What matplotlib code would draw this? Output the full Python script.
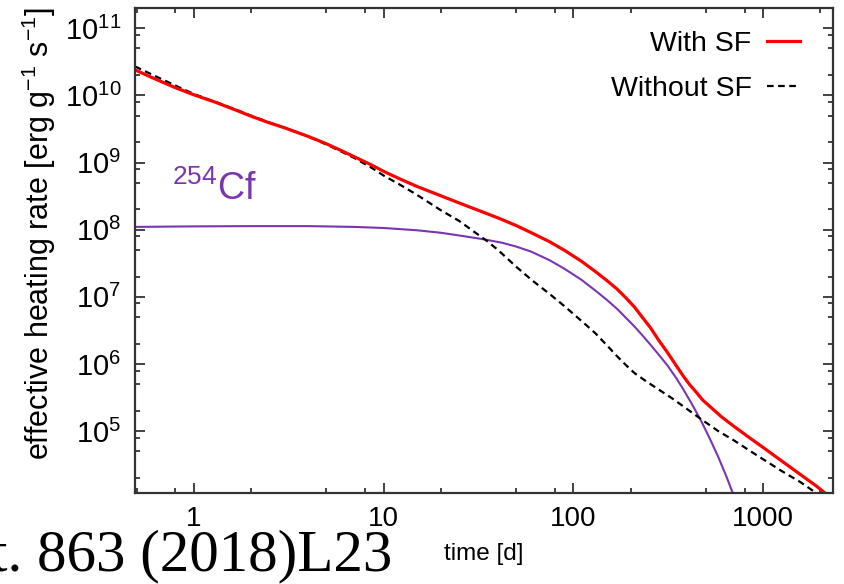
import numpy as np
import matplotlib
matplotlib.use("Agg")
import matplotlib.pyplot as plt
from matplotlib import ticker

# values (time in days, rate in erg/g/s)
t_sf = [0.49, 0.6, 0.8, 1, 1.3, 1.7, 2, 2.5, 3, 4, 5, 6, 7, 8.5, 10, 12, 15,
        20, 25, 30, 40, 50, 60, 75, 90, 110, 130, 150, 170, 190, 210, 230,
        254, 280, 312, 345, 379, 410, 440, 480, 526, 600, 695, 850, 1000,
        1250, 1566, 1900, 2100, 2250]
q_sf = [2.4e10, 1.85e10, 1.3e10, 1.02e10, 7.9e9, 5.9e9, 4.9e9, 3.9e9, 3.3e9,
        2.45e9, 1.9e9, 1.5e9, 1.22e9, 9.4e8, 7.4e8, 5.8e8, 4.4e8,
        3.2e8, 2.5e8, 2.05e8, 1.5e8, 1.15e8, 9.0e7, 6.6e7, 4.9e7, 3.4e7,
        2.4e7, 1.75e7, 1.3e7, 9.5e6, 7.0e6, 5.0e6,
        3.5e6, 2.3e6, 1.5e6, 9.8e5, 6.6e5, 4.9e5, 3.9e5, 2.9e5, 2.3e5,
        1.65e5, 1.2e5, 7.9e4, 5.7e4, 3.6e4, 2.27e4, 1.53e4, 1.22e4, 1.05e4]

t_nosf = [0.49, 0.6, 0.8, 1, 1.3, 1.7, 2, 2.5, 3, 4, 5, 6, 7, 8.5, 10, 12,
          15, 20, 25, 30, 35, 40, 50, 60, 75, 90, 110, 130, 150, 170, 190,
          210, 240, 280, 330, 400, 480, 580, 700, 850, 1000, 1250, 1566,
          1900, 2000]
q_nosf = [2.7e10, 2.05e10, 1.4e10, 1.05e10, 8.0e9, 6.0e9, 5.0e9, 3.95e9,
          3.3e9, 2.45e9, 1.85e9, 1.45e9, 1.17e9, 8.6e8, 6.4e8, 4.8e8,
          3.3e8, 1.95e8, 1.35e8, 9.3e7, 6.8e7, 5.0e7, 2.8e7, 1.8e7, 1.1e7,
          7.2e6, 4.4e6, 2.9e6, 1.9e6, 1.3e6, 9.5e5,
          7.3e5, 5.6e5, 4.2e5, 3.1e5, 2.1e5, 1.45e5, 1.0e5, 7.3e4, 5.1e4,
          3.8e4, 2.55e4, 1.75e4, 1.2e4, 1.08e4]

t_cf = [0.49, 1, 2, 4, 7, 10, 15, 20, 25, 33.6, 42, 50, 60, 75, 90, 110,
        130, 150, 170, 190, 210, 230, 254, 280, 312, 345, 379, 420, 466,
        520, 580, 640, 695, 720]
q_cf = [1.10e8, 1.12e8, 1.13e8, 1.13e8, 1.10e8, 1.06e8, 9.8e7, 9.0e7,
        8.2e7, 7.2e7, 6.4e7, 5.6e7, 4.7e7, 3.5e7, 2.6e7, 1.8e7,
        1.25e7, 9.0e6, 6.6e6, 4.8e6, 3.6e6, 2.7e6, 1.95e6, 1.4e6, 9.6e5,
        6.4e5, 4.2e5, 2.55e5, 1.5e5, 8.0e4, 4.1e4, 2.1e4, 1.15e4, 8.5e3]

xticks = [1, 10, 100, 1000]
xticklabels = ["1", "10", "100", "1000"]
yexps = [5, 6, 7, 8, 9, 10, 11]

RED = "#ff0000"
PURPLE = "#7a35b0"


def main():
    plt.rcParams["font.family"] = ["Liberation Sans", "DejaVu Sans"]
    plt.rcParams["mathtext.fontset"] = "custom"
    plt.rcParams["mathtext.rm"] = "Liberation Sans"
    plt.rcParams["mathtext.it"] = "Liberation Sans:italic"
    plt.rcParams["mathtext.bf"] = "Liberation Sans:bold"

    fig = plt.figure(figsize=(8.44, 5.84), dpi=100)
    ax = fig.add_axes([135 / 844, 1 - 493 / 584, 698 / 844, 485 / 584])

    ax.plot(t_cf, q_cf, color=PURPLE, lw=1.5)
    ax.plot(t_nosf, q_nosf, color="black", lw=1.6, dashes=(3, 2),
            label="Without SF")
    ax.plot(t_sf, q_sf, color=RED, lw=2.3, label="With SF")

    ax.set_xscale("log")
    ax.set_yscale("log")
    ax.set_xlim(0.49, 2330)
    ax.set_ylim(1.2e4, 2e11)

    ax.set_xticks(xticks, labels=xticklabels)
    ax.set_yticks([10.0 ** e for e in yexps],
                  labels=[r"$10^{%d}$" % e for e in yexps])
    ax.xaxis.set_minor_locator(ticker.LogLocator(base=10, subs=(2, 5, 8)))
    ax.yaxis.set_minor_locator(ticker.LogLocator(base=10, subs=(2, 5, 8)))
    ax.xaxis.set_minor_formatter(ticker.NullFormatter())
    ax.yaxis.set_minor_formatter(ticker.NullFormatter())

    ax.tick_params(which="both", direction="in", top=True, right=True,
                   color="#222222")
    ax.tick_params(which="major", length=7, width=1.2)
    ax.tick_params(which="minor", length=3.5, width=1.2)
    ax.tick_params(axis="x", labelsize=20, pad=9)
    ax.tick_params(axis="y", labelsize=21, pad=10)
    for s in ax.spines.values():
        s.set_linewidth(1.6)
        s.set_color("#333333")

    ax.set_xlabel("time [d]", fontsize=17.5, labelpad=8)
    ax.set_ylabel(r"effective heating rate [erg g$^{-1}$ s$^{-1}$]",
                  fontsize=22)
    ax.yaxis.set_label_coords(-0.110, 0.534)

    ax.text(0.053, 0.605, r"$^{254}$Cf", transform=ax.transAxes,
            fontsize=27, color=PURPLE)

    h, l = ax.get_legend_handles_labels()
    ax.legend(h[::-1], l[::-1], loc="upper right", frameon=False,
              markerfirst=False, fontsize=20.5, handlelength=1.15,
              handletextpad=0.56, labelspacing=0.65, borderpad=0,
              borderaxespad=0, bbox_to_anchor=(0.953, 0.952))

    fig.text(-0.011, 1 - 570 / 584, "t. 863 (2018)L23", fontsize=42.5,
             family="Liberation Serif", va="baseline", ha="left")

    fig.savefig("out.png", dpi=100)


if __name__ == "__main__":
    main()
